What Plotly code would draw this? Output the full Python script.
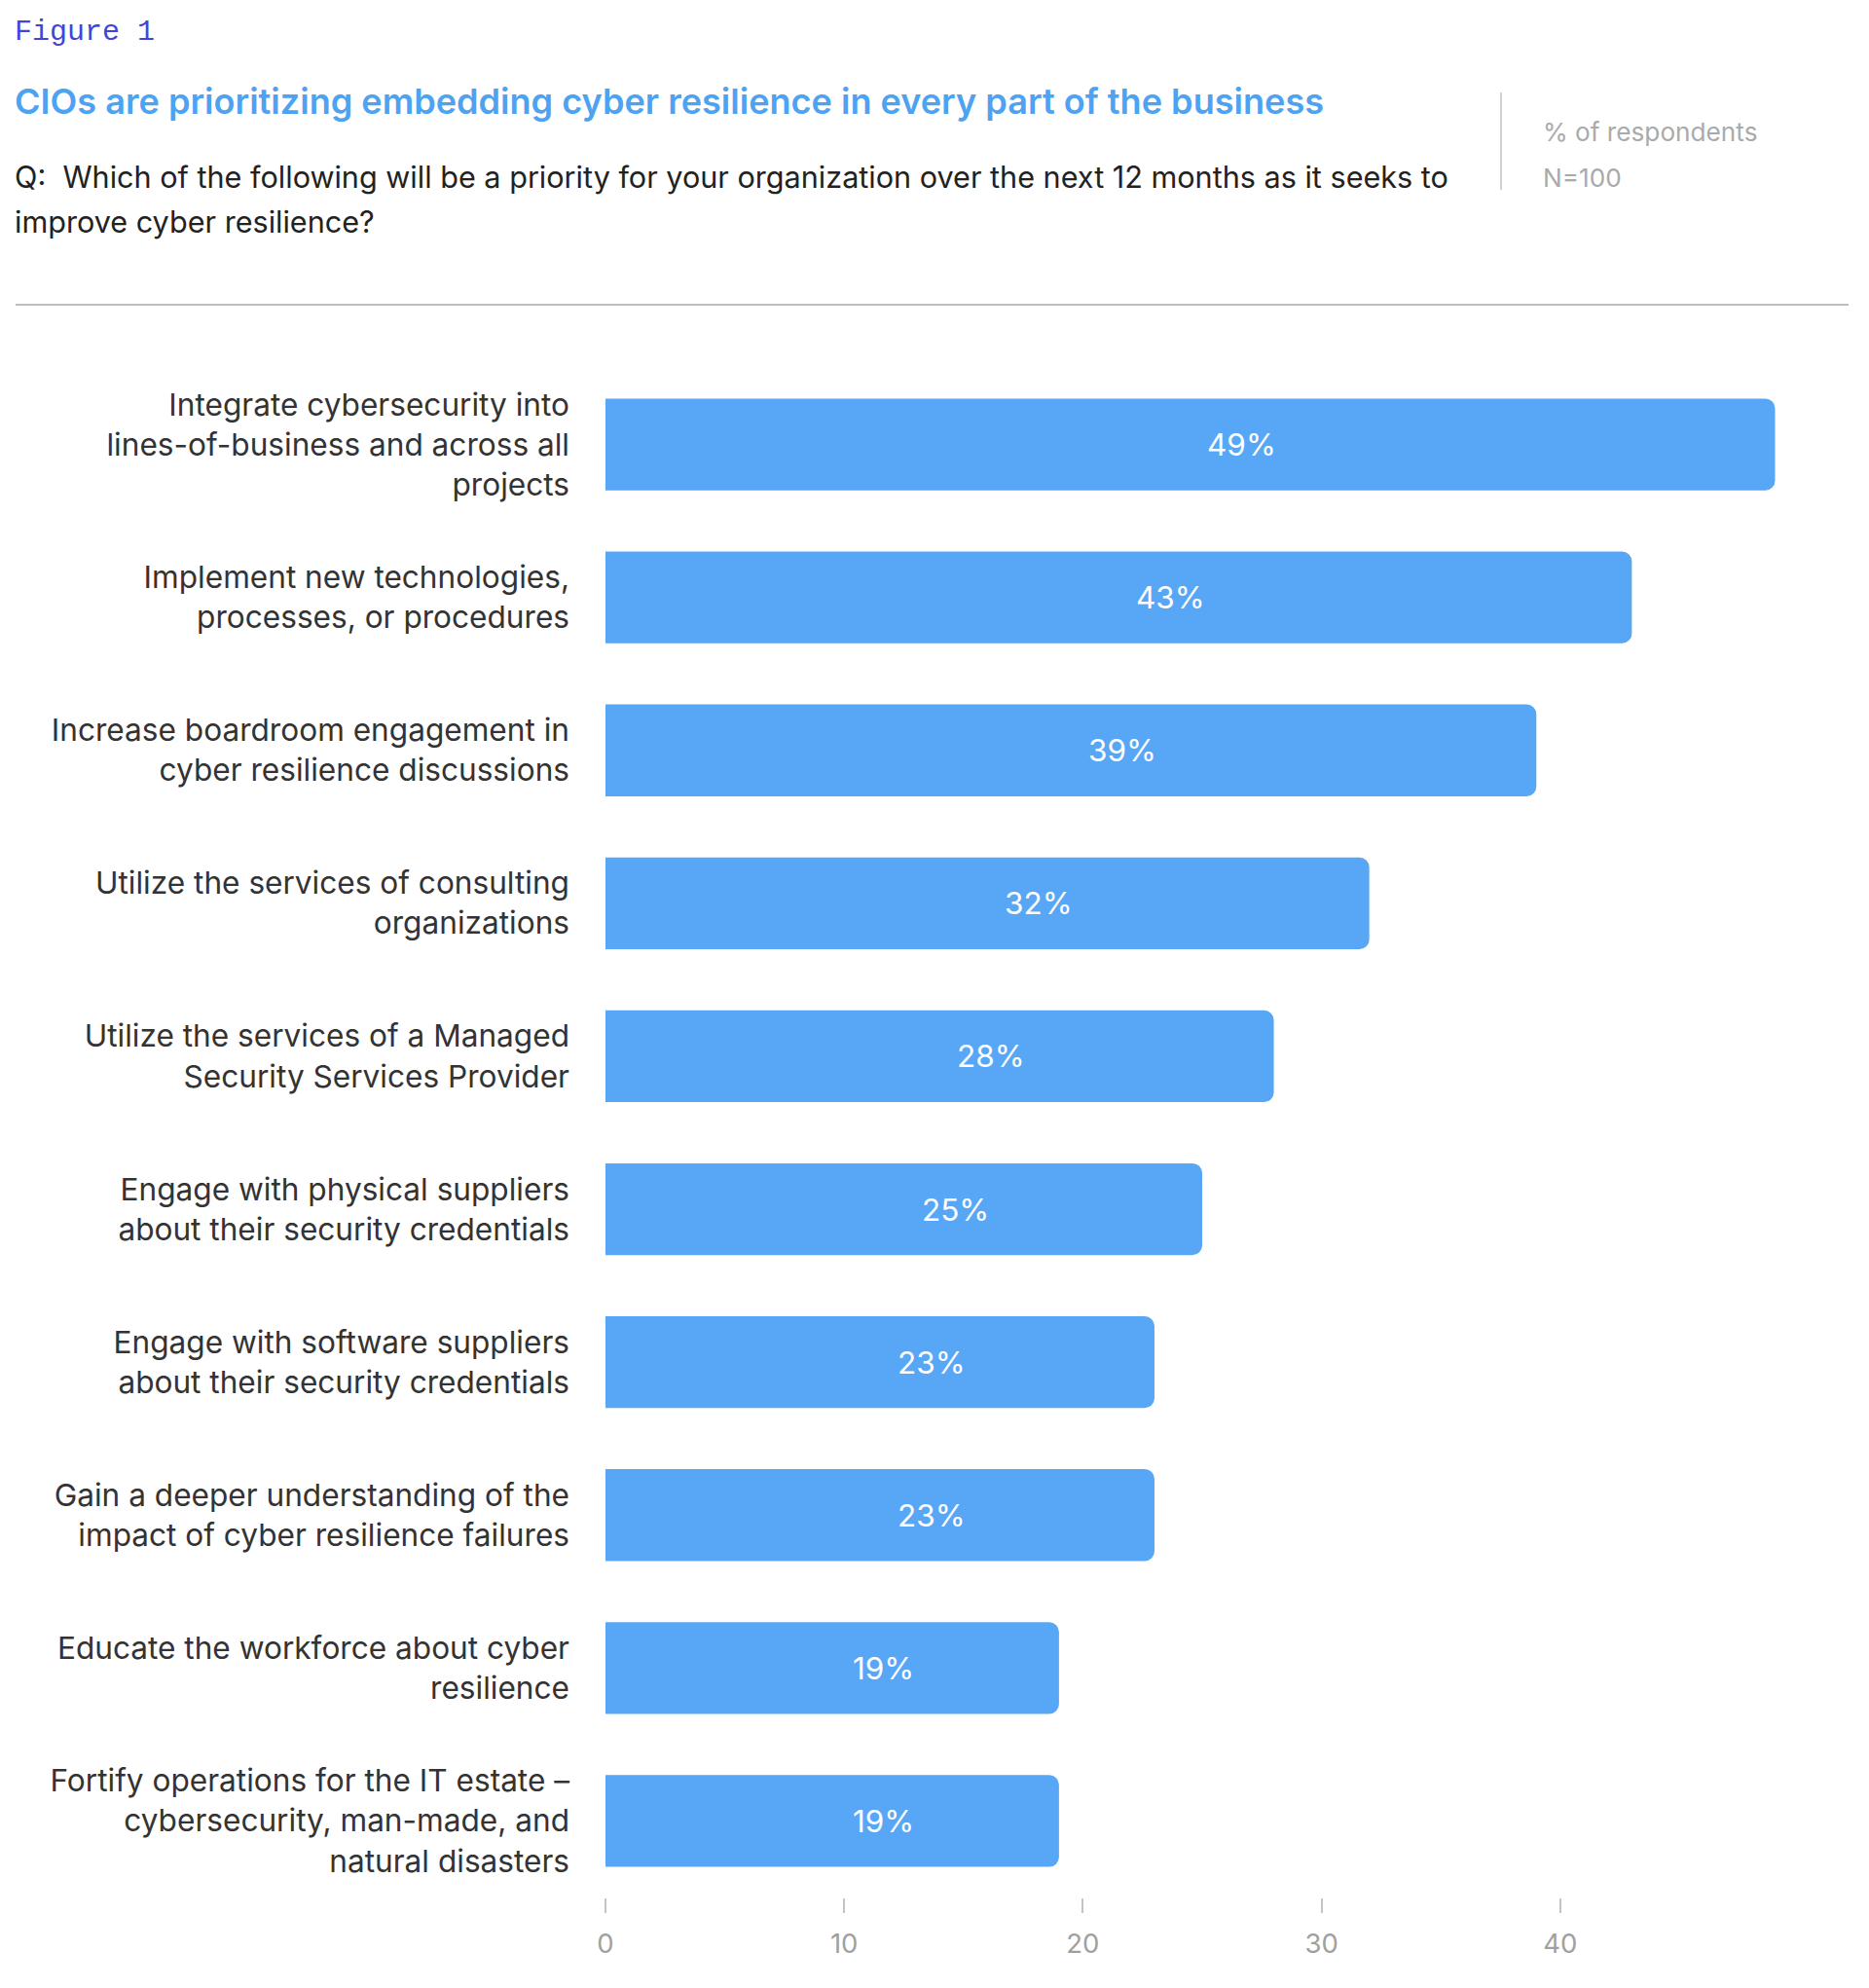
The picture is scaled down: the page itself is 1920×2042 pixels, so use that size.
import plotly.graph_objects as go

categories = [
    "Integrate cybersecurity into<br>lines-of-business and across all<br>projects",
    "Implement new technologies,<br>processes, or procedures",
    "Increase boardroom engagement in<br>cyber resilience discussions",
    "Utilize the services of consulting<br>organizations",
    "Utilize the services of a Managed<br>Security Services Provider",
    "Engage with physical suppliers<br>about their security credentials",
    "Engage with software suppliers<br>about their security credentials",
    "Gain a deeper understanding of the<br>impact of cyber resilience failures",
    "Educate the workforce about cyber<br>resilience",
    "Fortify operations for the IT estate –<br>cybersecurity, man-made, and<br>natural disasters",
]
values = [49, 43, 39, 32, 28, 25, 23, 23, 19, 19]
x_ticks = [0, 10, 20, 30, 40]

W, H = 1920, 2042
L, R, T, B = 622, 20, 378, 93
PW, PH = W - L - R, H - T - B
px_per_unit = 24.52


def px(x):
    return (x - L) / PW


def py(y):
    return (H - B - y) / PH


FONT = "Inter, 'Noto Sans', sans-serif"

fig = go.Figure(
    go.Bar(
        x=values,
        y=categories,
        orientation="h",
        marker=dict(color="#58a6f6", cornerradius=10, line=dict(width=0)),
        width=0.6,
        hoverinfo="skip",
    )
)

bar_labels = [
    dict(text=f"{v}%", x=v / 2, y=c, xref="x", yref="y", xshift=53,
         xanchor="center", yanchor="middle", showarrow=False,
         font=dict(color="white", size=31.5, family=FONT))
    for v, c in zip(values, categories)
]

header = [
    dict(text="Figure 1", x=px(13), y=py(33), xref="paper", yref="paper",
         xanchor="left", yanchor="middle", showarrow=False,
         font=dict(family="'Liberation Mono', 'Courier New', monospace", size=30, color="#4343dc")),
    dict(text="CIOs are prioritizing embedding cyber resilience in every part of the business",
         x=px(13), y=py(104), xref="paper", yref="paper",
         xanchor="left", yanchor="middle", showarrow=False,
         font=dict(family=FONT, size=36.1, color="#4da3f2", weight=600)),
    dict(text="Q:  Which of the following will be a priority for your organization over the next 12 months as it seeks to",
         x=px(13), y=py(181), xref="paper", yref="paper",
         xanchor="left", yanchor="middle", showarrow=False,
         font=dict(family=FONT, size=30.6, color="#222222")),
    dict(text="improve cyber resilience?",
         x=px(13), y=py(227), xref="paper", yref="paper",
         xanchor="left", yanchor="middle", showarrow=False,
         font=dict(family=FONT, size=30.6, color="#222222")),
    dict(text="% of respondents", x=px(1583), y=py(135), xref="paper", yref="paper",
         xanchor="left", yanchor="middle", showarrow=False,
         font=dict(family=FONT, size=26.2, color="#aaaaaa")),
    dict(text="N=100", x=px(1583), y=py(182), xref="paper", yref="paper",
         xanchor="left", yanchor="middle", showarrow=False,
         font=dict(family=FONT, size=26.2, color="#aaaaaa")),
]

fig.update_layout(
    width=W,
    height=H,
    margin=dict(l=L, r=R, t=T, b=B, pad=0),
    paper_bgcolor="white",
    plot_bgcolor="white",
    showlegend=False,
    font=dict(family=FONT),
    xaxis=dict(
        range=[0, PW / px_per_unit],
        tickvals=x_ticks,
        ticktext=[str(v) for v in x_ticks],
        showgrid=False,
        zeroline=False,
        showline=False,
        ticks="outside",
        ticklen=15,
        tickwidth=2,
        tickcolor="#c4c4c4",
        tickfont=dict(size=27.5, color="#a0a0a0", family=FONT),
        ticklabelstandoff=8,
    ),
    yaxis=dict(
        range=[9.5, -0.5],
        showgrid=False,
        zeroline=False,
        showline=False,
        ticks="",
        tickfont=dict(size=31.6, color="#333333", family=FONT),
        ticklabelstandoff=36,
    ),
    annotations=header + bar_labels,
    shapes=[
        dict(type="line", xref="paper", yref="paper",
             x0=px(1542), x1=px(1542), y0=py(95), y1=py(195),
             line=dict(color="#d2d2d2", width=2)),
        dict(type="line", xref="paper", yref="paper",
             x0=px(16), x1=px(1899), y0=py(313), y1=py(313),
             line=dict(color="#bdbdbd", width=2)),
    ],
)

fig.write_html("out.html")
